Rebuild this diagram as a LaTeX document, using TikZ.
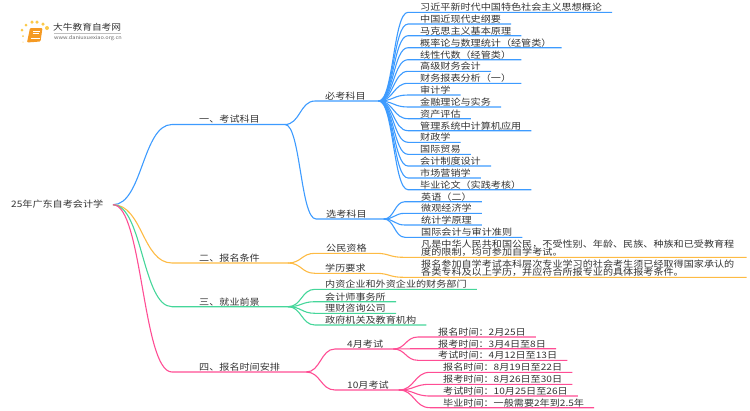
\documentclass[tikz,border=0pt]{standalone}
\usepackage{fontspec}
\setmainfont{Noto Sans CJK SC}
\usetikzlibrary{calc, positioning}
\definecolor{txtgray}{HTML}{333333}
\definecolor{blueln}{HTML}{3D9BFF}
\definecolor{orangeln}{HTML}{FDBB44}
\definecolor{greenln}{HTML}{45D69A}
\definecolor{pinkln}{HTML}{FF4D94}
\definecolor{dotcol}{HTML}{FBC94A}
\definecolor{bookcol}{HTML}{F59A23}
\begin{document}
\begin{tikzpicture}[x=1pt, y=1pt,
  lbl/.style={anchor=south west, inner xsep=0pt, inner ysep=0pt, text depth=1.7pt, align=left, text=txtgray, transform shape, yscale=.88, font=\fontsize{10.1}{9.5}\selectfont\lineskiplimit -6pt\relax},
  bl/.style={draw=blueln, line width=1.1pt},
  og/.style={draw=orangeln, line width=1.1pt},
  gn/.style={draw=greenln, line width=1.1pt},
  pk/.style={draw=pinkln, line width=1.1pt},
  sc/.style={to path={let \p1=(\tikztostart), \p2=(\tikztotarget) in .. controls ({.5*\x1+.5*\x2},\y1) and ({.5*\x1+.5*\x2},\y2) .. (\tikztotarget)}},
  dot/.style={circle, fill=dotcol, inner sep=0pt}]
\useasboundingbox (0,0) rectangle (750,-410);
%logo
\node[dot, minimum size=3pt] (d1) at (22,-30) {};
\node[dot, minimum size=3pt] (d2) at (26,-25) {};
\node[dot, minimum size=3.5pt] (d3) at (32,-22) {};
\node[dot, minimum size=3.5pt] (d4) at (37,-22) {};
\node[dot, minimum size=3.5pt] (d5) at (43,-24) {};
\node[dot, minimum size=4pt] (d6) at (47,-28) {};
\node[dot, minimum size=2pt] (d7) at (23,-36) {};
\node[dot, minimum size=1.5pt, opacity=.5] (d8) at (23,-42) {};
\fill[bookcol, rounded corners=1pt] (30,-28) -- (42.5,-28) -- (40.5,-41.5) -- (27,-42.5) -- cycle;
\draw[white, line width=.6pt] (30.5,-38.5) -- (39.5,-38.5);
\draw[white, line width=.5pt] (33,-31.5) -- (39.5,-31.5) (32.5,-33.5) -- (39,-33.5);
\node[lbl, font=\fontsize{9.7}{10}\selectfont, text depth=1pt] (logo) at (53,-32) {大牛教育自考网};
\node[lbl, font=\fontsize{5.6}{6}\selectfont, text=black!60, text depth=1pt] (url) at (54,-41) {www.daniuxuexiao.org.cn};
\draw[black!25, line width=.4pt] (54,-33.3) -- (121,-33.3);
%root and main branches
\node[lbl] (root) at (11,-209) {25年广东自考会计学};
\coordinate (rootend) at (113,-204.7);
\node[lbl] (exam) at (199,-124.5) {一、考试科目};
\node[lbl] (cond) at (199,-263) {二、报名条件};
\node[lbl] (job) at (199,-306.7) {三、就业前景};
\node[lbl] (time) at (199,-372) {四、报名时间安排};
\coordinate (examend) at ([xshift=25pt]exam.south east);
\coordinate (condend) at ([xshift=28pt]cond.south east);
\coordinate (jobend) at ([xshift=28pt]job.south east);
\coordinate (timeend) at ([xshift=26pt]time.south east);
\draw[bl] (rootend) to[sc] ([xshift=-27pt]exam.south west) -- (examend);
\draw[og] (rootend) to[sc] ([xshift=-27pt]cond.south west) -- (condend);
\draw[gn] (rootend) to[sc] ([xshift=-27pt]job.south west) -- (jobend);
\draw[pk] (rootend) to[sc] ([xshift=-27pt]time.south west) -- (timeend);
%split exam
\node[lbl] (must) at (325,-101) {必考科目};
\node[lbl] (opt) at (326,-219) {选考科目};
\coordinate (mustend) at ([xshift=13pt]must.south east);
\coordinate (optend) at ([xshift=17pt]opt.south east);
\draw[bl] (examend) to[sc] ([xshift=-10pt]must.south west) -- (mustend);
\draw[bl] (examend) to[sc] ([xshift=-10pt]opt.south west) -- (optend);
%must subjects
\node[lbl] (m1) at (420,-12.3) {习近平新时代中国特色社会主义思想概论};
\node[lbl] (m2) at (420,-24) {中国近现代史纲要};
\node[lbl] (m3) at (420,-35.7) {马克思主义基本原理};
\node[lbl] (m4) at (420,-47.7) {概率论与数理统计（经管类）};
\node[lbl] (m5) at (420,-59.7) {线性代数（经管类）};
\node[lbl] (m6) at (420,-71.3) {高级财务会计};
\node[lbl] (m7) at (420,-83.3) {财务报表分析（一）};
\node[lbl] (m8) at (420,-95) {审计学};
\node[lbl] (m9) at (420,-107) {金融理论与实务};
\node[lbl] (m10) at (420,-118.7) {资产评估};
\node[lbl] (m11) at (420,-130.7) {管理系统中计算机应用};
\node[lbl] (m12) at (420,-142.3) {财政学};
\node[lbl] (m13) at (420,-154.3) {国际贸易};
\node[lbl] (m14) at (420,-166) {会计制度设计};
\node[lbl] (m15) at (420,-178) {市场营销学};
\node[lbl] (m16) at (420,-189.7) {毕业论文（实践考核）};
\draw[bl] (mustend) to[sc] ([xshift=-12pt]m1.south west) -- ([xshift=10pt]m1.south east);
\draw[bl] (mustend) to[sc] ([xshift=-12pt]m2.south west) -- ([xshift=10pt]m2.south east);
\draw[bl] (mustend) to[sc] ([xshift=-12pt]m3.south west) -- ([xshift=10pt]m3.south east);
\draw[bl] (mustend) to[sc] ([xshift=-12pt]m4.south west) -- ([xshift=10pt]m4.south east);
\draw[bl] (mustend) to[sc] ([xshift=-12pt]m5.south west) -- ([xshift=10pt]m5.south east);
\draw[bl] (mustend) to[sc] ([xshift=-12pt]m6.south west) -- ([xshift=10pt]m6.south east);
\draw[bl] (mustend) to[sc] ([xshift=-12pt]m7.south west) -- ([xshift=10pt]m7.south east);
\draw[bl] (mustend) to[sc] ([xshift=-12pt]m8.south west) -- ([xshift=10pt]m8.south east);
\draw[bl] (mustend) to[sc] ([xshift=-12pt]m9.south west) -- ([xshift=10pt]m9.south east);
\draw[bl] (mustend) to[sc] ([xshift=-12pt]m10.south west) -- ([xshift=10pt]m10.south east);
\draw[bl] (mustend) to[sc] ([xshift=-12pt]m11.south west) -- ([xshift=10pt]m11.south east);
\draw[bl] (mustend) to[sc] ([xshift=-12pt]m12.south west) -- ([xshift=10pt]m12.south east);
\draw[bl] (mustend) to[sc] ([xshift=-12pt]m13.south west) -- ([xshift=10pt]m13.south east);
\draw[bl] (mustend) to[sc] ([xshift=-12pt]m14.south west) -- ([xshift=10pt]m14.south east);
\draw[bl] (mustend) to[sc] ([xshift=-12pt]m15.south west) -- ([xshift=10pt]m15.south east);
\draw[bl] (mustend) to[sc] ([xshift=-12pt]m16.south west) -- ([xshift=10pt]m16.south east);
%optional subjects
\node[lbl] (o1) at (421,-201.7) {英语（二）};
\node[lbl] (o2) at (421,-213.3) {微观经济学};
\node[lbl] (o3) at (421,-225) {统计学原理};
\node[lbl] (o4) at (421,-237.3) {国际会计与审计准则};
\draw[bl] (optend) to[sc] ([xshift=-16pt]o1.south west) -- ([xshift=10pt]o1.south east);
\draw[bl] (optend) to[sc] ([xshift=-16pt]o2.south west) -- ([xshift=10pt]o2.south east);
\draw[bl] (optend) to[sc] ([xshift=-16pt]o3.south west) -- ([xshift=10pt]o3.south east);
\draw[bl] (optend) to[sc] ([xshift=-16pt]o4.south west) -- ([xshift=10pt]o4.south east);
%split cond
\node[lbl] (cit) at (326,-253.3) {公民资格};
\node[lbl] (edu) at (325,-273.3) {学历要求};
\coordinate (citend) at ([xshift=9pt]cit.south east);
\coordinate (eduend) at ([xshift=10pt]edu.south east);
\draw[og] (condend) to[sc] ([xshift=-11pt]cit.south west) -- (citend);
\draw[og] (condend) to[sc] ([xshift=-10pt]edu.south west) -- (eduend);
\node[lbl] (citt) at (421,-257.3) {\hbox{凡是中华人民共和国公民，\kern0pt 不受性别、\kern0pt 年龄、\kern0pt 民族、\kern0pt 种族和已受教育程}\\度的限制，均可参加自学考试。};
\node[lbl] (edut) at (421,-277.3) {\hbox{报名参加自学考试本科层次专业学习的社会考生须已经取得国家承认的}\\各类专科及以上学历，并应符合所报专业的具体报考条件。};
\draw[og] (citend) to[sc] ([xshift=-18pt]citt.south west) -- ([xshift=12pt]citt.south east);
\draw[og] (eduend) to[sc] ([xshift=-18pt]edut.south west) -- ([xshift=12pt]edut.south east);
%split job
\node[lbl] (j1) at (325,-289.3) {内资企业和外资企业的财务部门};
\node[lbl] (j2) at (325,-301.7) {会计师事务所};
\node[lbl] (j3) at (325,-313.3) {理财咨询公司};
\node[lbl] (j4) at (325,-325) {政府机关及教育机构};
\draw[gn] (jobend) to[sc] ([xshift=-10pt]j1.south west) -- ([xshift=10pt]j1.south east);
\draw[gn] (jobend) to[sc] ([xshift=-10pt]j2.south west) -- ([xshift=10pt]j2.south east);
\draw[gn] (jobend) to[sc] ([xshift=-10pt]j3.south west) -- ([xshift=10pt]j3.south east);
\draw[gn] (jobend) to[sc] ([xshift=-10pt]j4.south west) -- ([xshift=10pt]j4.south east);
%split time
\node[lbl] (apr) at (347,-349) {4月考试};
\node[lbl] (oct) at (347,-390) {10月考试};
\coordinate (aprend) at ([xshift=10pt]apr.south east);
\coordinate (octend) at ([xshift=10pt]oct.south east);
\draw[pk] (timeend) to[sc] ([xshift=-12pt]apr.south west) -- (aprend);
\draw[pk] (timeend) to[sc] ([xshift=-12pt]oct.south west) -- (octend);
\node[lbl] (a1) at (438,-337) {报名时间：2月25日};
\node[lbl] (a2) at (438,-348.7) {报考时间：3月4日至8日};
\node[lbl] (a3) at (438,-360.3) {考试时间：4月12日至13日};
\draw[pk] (aprend) to[sc] ([xshift=-20pt]a1.south west) -- ([xshift=10pt]a1.south east);
\draw[pk] (aprend) to[sc] ([xshift=-20pt]a2.south west) -- ([xshift=10pt]a2.south east);
\draw[pk] (aprend) to[sc] ([xshift=-20pt]a3.south west) -- ([xshift=10pt]a3.south east);
\node[lbl] (b1) at (443,-372.3) {报名时间：8月19日至22日};
\node[lbl] (b2) at (443,-384.3) {报考时间：8月26日至30日};
\node[lbl] (b3) at (443,-396) {考试时间：10月25日至26日};
\node[lbl] (b4) at (443,-407.7) {毕业时间：一般需要2年到2.5年};
\draw[pk] (octend) to[sc] ([xshift=-13pt]b1.south west) -- ([xshift=10pt]b1.south east);
\draw[pk] (octend) to[sc] ([xshift=-13pt]b2.south west) -- ([xshift=10pt]b2.south east);
\draw[pk] (octend) to[sc] ([xshift=-13pt]b3.south west) -- ([xshift=10pt]b3.south east);
\draw[pk] (octend) to[sc] ([xshift=-13pt]b4.south west) -- ([xshift=10pt]b4.south east);
\end{tikzpicture}
\end{document}
